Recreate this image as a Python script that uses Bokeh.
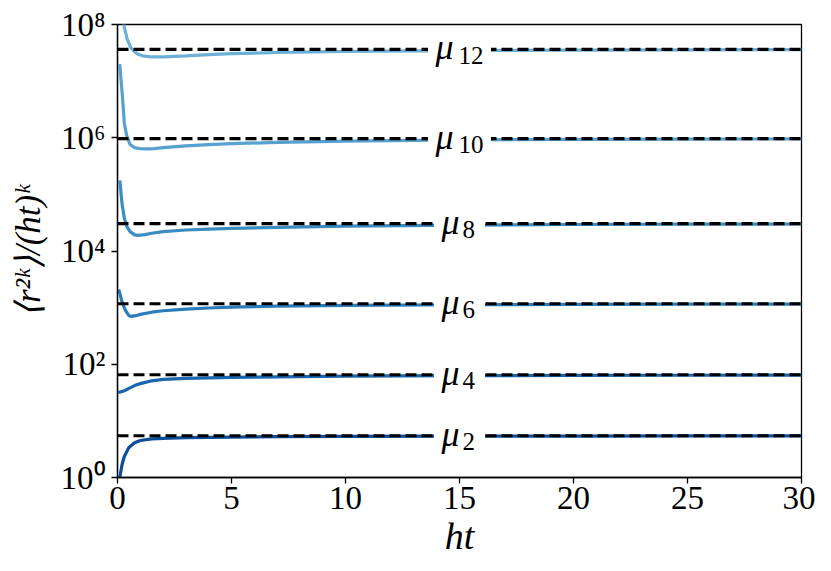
from bokeh.plotting import figure
from bokeh.models import Range1d, FixedTicker, CustomJSTickFormatter, ColumnDataSource
from bokeh.core.properties import value
from bokeh.embed import file_html
from bokeh.resources import INLINE

# ---- data ----
ht_mu2 = [0.1, 0.2, 0.3, 0.5, 0.75, 1.0, 1.5, 2, 3, 5, 7, 10, 15, 20, 25, 30]
r_mu2 = [1.0, 1.7, 2.35, 3.4, 4.1, 4.5, 4.8, 4.92, 5.06, 5.17, 5.25, 5.32, 5.37, 5.4, 5.42, 5.44]

ht_mu4 = [0.02, 0.1, 0.3, 0.5, 0.75, 1.0, 1.5, 2, 3, 5, 7, 10, 15, 20, 25, 30]
r_mu4 = [32.0, 32.2, 34.0, 37.5, 42.0, 45.5, 51.0, 54.0, 56.5, 58.5, 60.0, 61.5, 62.8, 63.5, 64.0, 64.3]

ht_mu6 = [0.05, 0.1, 0.2, 0.35, 0.5, 0.6, 0.8, 1.0, 1.5, 2, 3, 4, 5, 7, 10, 15, 20, 25, 30]
r_mu6 = [2100, 1800, 1250, 890, 720, 700, 720, 760, 830, 880, 940, 985, 1020, 1060, 1095, 1125, 1140, 1150, 1157]

ht_mu8 = [0.1, 0.15, 0.2, 0.3, 0.4, 0.55, 0.75, 0.9, 1.2, 1.5, 2, 3, 4, 5, 7, 10, 15, 20, 25, 30]
r_mu8 = [1.77e5, 1.1e5, 6.8e4, 3.8e4, 2.75e4, 2.2e4, 1.93e4, 1.89e4, 1.95e4, 2.06e4, 2.2e4, 2.35e4,
         2.43e4, 2.5e4, 2.62e4, 2.75e4, 2.87e4, 2.94e4, 2.98e4, 3.0e4]

ht_mu10 = [0.1, 0.15, 0.2, 0.3, 0.4, 0.55, 0.75, 1.0, 1.3, 1.6, 2, 3, 4, 5, 7, 10, 15, 20, 25, 30]
r_mu10 = [2.0e7, 1.1e7, 6.5e6, 1.8e6, 1.1e6, 7.6e5, 6.7e5, 6.4e5, 6.35e5, 6.45e5, 6.7e5, 7.2e5,
          7.55e5, 7.85e5, 8.3e5, 8.75e5, 9.15e5, 9.35e5, 9.45e5, 9.52e5]

ht_mu12 = [0.1, 0.2, 0.3, 0.42, 0.6, 0.85, 1.1, 1.5, 2, 3, 4, 5, 7, 10, 15, 20, 25, 30]
r_mu12 = [6e8, 1.7e8, 9e7, 5.6e7, 3.8e7, 3.05e7, 2.8e7, 2.67e7, 2.68e7, 2.8e7, 2.93e7, 3.05e7,
          3.2e7, 3.35e7, 3.47e7, 3.53e7, 3.57e7, 3.6e7]

mu_names = ["2", "4", "6", "8", "10", "12"]
mu_values = [5.46, 65.2, 1170, 3.04e4, 9.64e5, 3.65e7]
label_x = 15
x_ticks = [0, 5, 10, 15, 20, 25, 30]
y_ticks = [1, 1e2, 1e4, 1e6, 1e8]
x_label = "ht"
y_label = "⟨r²ᵏ⟩/(ht)ᵏ"

curves = [(ht_mu2, r_mu2), (ht_mu4, r_mu4), (ht_mu6, r_mu6),
          (ht_mu8, r_mu8), (ht_mu10, r_mu10), (ht_mu12, r_mu12)]
colors = ["#0b4f98", "#1a66ae", "#2b7cba", "#3b8cc3", "#56a1d0", "#6cafd7"]

SERIF = "Liberation Serif"

p = figure(frame_width=684, frame_height=453, x_axis_type="linear", y_axis_type="log",
           x_range=Range1d(0, 30), y_range=Range1d(1, 1e8),
           output_backend="svg", toolbar_location=None, title=None)
p.min_border_left = 117
p.min_border_top = 24
p.min_border_right = 14
p.min_border_bottom = 80
p.background_fill_color = "white"
p.border_fill_color = "white"
p.outline_line_color = "black"
p.outline_line_width = 1.3
p.xgrid.grid_line_color = None
p.ygrid.grid_line_color = None

for (xs, ys), c in zip(curves, colors):
    p.line(xs, ys, line_color=c, line_width=3.2)

src = ColumnDataSource(dict(
    x0=[0] * len(mu_values), x1=[30] * len(mu_values), y=mu_values,
    xl=[label_x] * len(mu_values),
    mu=["μ"] * len(mu_values), sub=mu_names,
    bw=[51 if len(n) == 1 else 63 for n in mu_names],
    mu_off=[-18 if len(n) == 1 else -24 for n in mu_names],
    sub_off=[3 if len(n) == 1 else -1 for n in mu_names],
))
p.segment(x0="x0", x1="x1", y0="y", y1="y", source=src, line_color="black",
          line_width=3.2, line_dash="11 5")
p.rect(x="xl", y="y", width="bw", height=44, width_units="screen", height_units="screen",
       source=src, fill_color="white", line_color=None)
p.text(x="xl", y="y", text="mu", source=src, x_offset="mu_off", y_offset=-2,
       text_font=value(SERIF), text_font_style="italic", text_font_size="36px",
       text_align="left", text_baseline="alphabetic", text_color="black")
p.text(x="xl", y="y", text="sub", source=src, x_offset="sub_off", y_offset=6,
       text_font=value(SERIF), text_font_size="25px",
       text_align="left", text_baseline="alphabetic", text_color="black")

for ax in (p.xaxis[0], p.yaxis[0]):
    ax.axis_line_color = "black"
    ax.axis_line_width = 1.3
    ax.major_tick_line_color = "black"
    ax.major_tick_line_width = 1.3
    ax.major_tick_in = 0
    ax.major_tick_out = 6
    ax.minor_tick_line_color = None
    ax.major_label_text_font = SERIF
    ax.major_label_text_font_size = "33px"
    ax.major_label_text_color = "black"
    ax.axis_label_text_font = SERIF
    ax.axis_label_text_color = "black"
    ax.axis_label_text_font_style = "italic"

p.xaxis.ticker = FixedTicker(ticks=x_ticks)
p.yaxis.ticker = FixedTicker(ticks=y_ticks)
p.xaxis.major_label_standoff = 3
p.yaxis.major_label_standoff = 6
p.xaxis.axis_label = x_label
p.xaxis.axis_label_text_font_size = "38px"
p.xaxis.axis_label_standoff = 3
p.yaxis.axis_label = y_label
p.yaxis.axis_label_text_font_size = "35px"
p.yaxis.axis_label_standoff = 10
p.yaxis.formatter = CustomJSTickFormatter(code="""
const sup = {'0':'⁰','1':'¹','2':'²','3':'³','4':'⁴','5':'⁵','6':'⁶','7':'⁷','8':'⁸','9':'⁹','-':'⁻'};
const e = Math.round(Math.log10(tick));
return '10' + String(e).split('').map(c => sup[c]).join('');
""")

open("out.html", "w").write(file_html(p, INLINE))
